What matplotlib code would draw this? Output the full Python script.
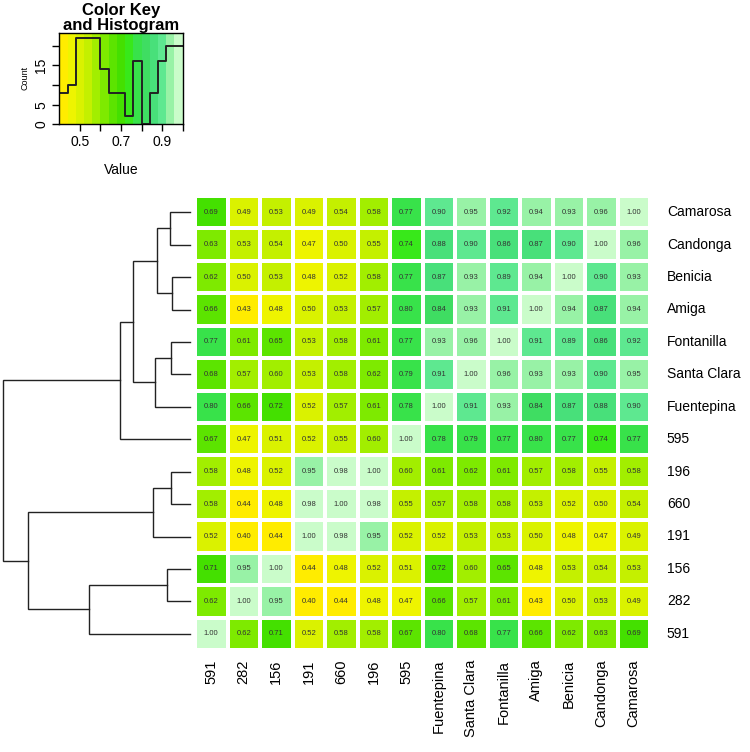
import numpy as np
import matplotlib.pyplot as plt
from matplotlib.colors import ListedColormap, BoundaryNorm

plt.rcParams['font.family'] = ['Liberation Sans', 'DejaVu Sans']

# row order (top to bottom) as given by the dendrogram
row_labels = ['Camarosa', 'Candonga', 'Benicia', 'Amiga', 'Fontanilla', 'Santa Clara',
              'Fuentepina', '595', '196', '660', '191', '156', '282', '591']
col_labels = ['591', '282', '156', '191', '660', '196', '595', 'Fuentepina',
              'Santa Clara', 'Fontanilla', 'Amiga', 'Benicia', 'Candonga', 'Camarosa']

values = np.array([
    [0.69, 0.49, 0.53, 0.49, 0.54, 0.58, 0.77, 0.90, 0.95, 0.92, 0.94, 0.93, 0.96, 1.00],
    [0.63, 0.53, 0.54, 0.47, 0.50, 0.55, 0.74, 0.88, 0.90, 0.86, 0.87, 0.90, 1.00, 0.96],
    [0.62, 0.50, 0.53, 0.48, 0.52, 0.58, 0.77, 0.87, 0.93, 0.89, 0.94, 1.00, 0.90, 0.93],
    [0.66, 0.43, 0.48, 0.50, 0.53, 0.57, 0.80, 0.84, 0.93, 0.91, 1.00, 0.94, 0.87, 0.94],
    [0.77, 0.61, 0.65, 0.53, 0.58, 0.61, 0.77, 0.93, 0.96, 1.00, 0.91, 0.89, 0.86, 0.92],
    [0.68, 0.57, 0.60, 0.53, 0.58, 0.62, 0.79, 0.91, 1.00, 0.96, 0.93, 0.93, 0.90, 0.95],
    [0.80, 0.66, 0.72, 0.52, 0.57, 0.61, 0.78, 1.00, 0.91, 0.93, 0.84, 0.87, 0.88, 0.90],
    [0.67, 0.47, 0.51, 0.52, 0.55, 0.60, 1.00, 0.78, 0.79, 0.77, 0.80, 0.77, 0.74, 0.77],
    [0.58, 0.48, 0.52, 0.95, 0.98, 1.00, 0.60, 0.61, 0.62, 0.61, 0.57, 0.58, 0.55, 0.58],
    [0.58, 0.44, 0.48, 0.98, 1.00, 0.98, 0.55, 0.57, 0.58, 0.58, 0.53, 0.52, 0.50, 0.54],
    [0.52, 0.40, 0.44, 1.00, 0.98, 0.95, 0.52, 0.52, 0.53, 0.53, 0.50, 0.48, 0.47, 0.49],
    [0.71, 0.95, 1.00, 0.44, 0.48, 0.52, 0.51, 0.72, 0.60, 0.65, 0.48, 0.53, 0.54, 0.53],
    [0.62, 1.00, 0.95, 0.40, 0.44, 0.48, 0.47, 0.66, 0.57, 0.61, 0.43, 0.50, 0.53, 0.49],
    [1.00, 0.62, 0.71, 0.52, 0.58, 0.58, 0.67, 0.80, 0.68, 0.77, 0.66, 0.62, 0.63, 0.69],
])

# colour breaks and palette of the key
breaks = np.linspace(0.40, 1.00, 16)
colors = ['#FFEC00', '#EEF400', '#DAF200', '#C4F000', '#A2EE00', '#7EEA00', '#5CE400',
          '#44E000', '#38E81A', '#38E24A', '#3FDD62', '#48E07A', '#5EE890', '#98F2A6',
          '#CAFCCA']
# histogram counts
hist_counts = [8, 10, 22, 22, 22, 14, 8, 8, 2, 16, 0, 8, 16, 20, 20]

# row dendrogram: (child a, child b, height); leaves are 0..13 in row order,
# merged clusters get ids 14, 15, ...
merge_a = [0, 2, 14, 4, 17, 16, 19, 8, 21, 11, 23, 22, 20]
merge_b = [1, 3, 15, 5, 6, 18, 7, 9, 10, 12, 13, 24, 25]
merge_h = [0.107, 0.098, 0.178, 0.103, 0.185, 0.303, 0.374, 0.103, 0.196,
           0.125, 0.538, 0.867, 1.0]

W, H = 750, 752
fig = plt.figure(figsize=(W / 100, H / 100), dpi=100)

def px_axes(x0, y0, x1, y1):
    return fig.add_axes([x0 / W, 1 - y1 / H, (x1 - x0) / W, (y1 - y0) / H])

n = len(row_labels)

# heatmap
ax = px_axes(195, 196, 650, 650)
idx = np.clip(np.digitize(values, breaks[1:-1], right=True), 0, len(colors) - 1)
cmap = ListedColormap(colors)
norm = BoundaryNorm(np.arange(-0.5, len(colors) + 0.5), len(colors))
ax.pcolormesh(np.arange(n + 1), np.arange(n + 1), idx, cmap=cmap, norm=norm,
              edgecolors='white', linewidth=1.5)
ax.set_xlim(0, n)
ax.set_ylim(n, 0)
ax.axis('off')
for i in range(n):
    for j in range(n):
        ax.text(j + 0.5, i + 0.5, '{:.2f}'.format(values[i, j]), ha='center',
                va='center', fontsize=5.5, color='#333333')
for i, lab in enumerate(row_labels):
    ax.text(n + 0.52, i + 0.5, lab, ha='left', va='center', fontsize=10,
            clip_on=False)
for j, lab in enumerate(col_labels):
    ax.text(j + 0.5, n + 0.3, lab, ha='center', va='top', rotation=90,
            fontsize=10.5, clip_on=False)

# dendrogram
dax = px_axes(0, 196, 195, 650)
pos = {i: (0.0, i + 0.5) for i in range(n)}
for k, (a, b, h) in enumerate(zip(merge_a, merge_b, merge_h)):
    ha_, ya = pos[a]
    hb_, yb = pos[b]
    dax.plot([ha_, h, h, hb_], [ya, ya, yb, yb], color='#222222', lw=1.0,
             solid_joinstyle='miter')
    pos[n + k] = (h, (ya + yb) / 2)
dax.set_xlim(1.0145, -0.0266)
dax.set_ylim(n, 0)
dax.axis('off')

# colour key with histogram
kax = px_axes(59.3, 33.3, 182.7, 124.3)
kax.pcolormesh(breaks, [0, 1], np.arange(len(colors))[None, :], cmap=cmap, norm=norm)
hy = np.array(hist_counts + [hist_counts[-1]], dtype=float)
kax.step(breaks, hy / max(hist_counts) * 0.95, where='post', color='#222222', lw=1.4)
kax.set_xlim(0.4, 1.0)
kax.set_ylim(0, 1)
kax.set_xticks(np.arange(0.5, 1.01, 0.1))
kax.set_xticklabels(['0.5', '', '0.7', '', '0.9', ''], fontsize=10)
yt = np.array([0, 5, 10, 15, 20])
kax.set_yticks(yt / max(hist_counts) * 0.95)
kax.set_yticklabels(['0', '5', '', '15', ''], fontsize=10, rotation=90, va='center')
kax.tick_params(length=5, width=1, pad=3)
for s in kax.spines.values():
    s.set_linewidth(1)

fig.text(121 / W, 1 - 18 / H, 'Color Key\nand Histogram', ha='center', va='center',
         fontsize=12, fontweight='bold', linespacing=1.05)
fig.text(25 / W, 1 - 78 / H, 'Count', rotation=90, ha='center', va='center', fontsize=6.5)
fig.text(121 / W, 1 - 170 / H, 'Value', ha='center', va='center', fontsize=10)

fig.savefig('out.png', dpi=100)
